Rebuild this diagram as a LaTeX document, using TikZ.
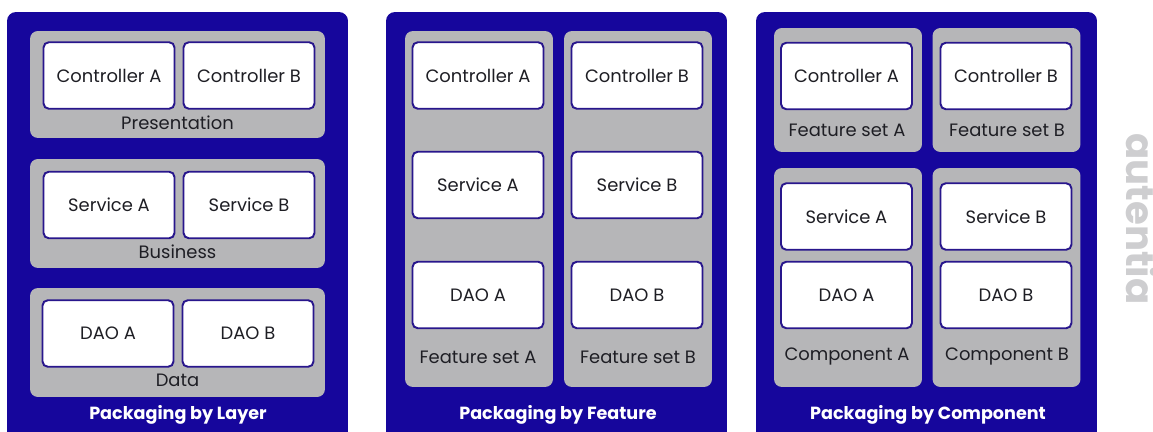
\documentclass[tikz,border=0pt]{standalone}
\usepackage{fontspec}
\setmainfont{Poppins}
\usepackage{xcolor}
\usetikzlibrary{positioning}

\definecolor{pkgblue}{RGB}{22,6,156}
\definecolor{grpgray}{RGB}{182,182,184}
\definecolor{clsline}{RGB}{40,22,140}
\definecolor{txtdark}{RGB}{30,30,36}
\definecolor{logogray}{RGB}{206,206,208}

\begin{document}
\begin{tikzpicture}[
          x=0.02cm, y=-0.02cm,
          every node/.style={font=\fontsize{10.2}{12}\selectfont, text=txtdark, inner sep=0pt},
          pkg/.style={fill=pkgblue, rounded corners=5pt, minimum width=6.82cm, minimum height=8.64cm},
          grp/.style={fill=grpgray, rounded corners=4.5pt, minimum width=#1},
          cls/.style={draw=clsline, line width=1.1pt, fill=white, rounded corners=3pt,
                      minimum width=2.62cm, minimum height=1.33cm},
          lab/.style={},
          ttl/.style={font=\fontsize{10}{12}\selectfont\bfseries, text=white},
        ]
          \useasboundingbox (0,0) rectangle (1153,432);
          \clip (0,0) rectangle (1153,432);

          %% outer blue panels (bottom runs off the page)
          \node[pkg] (layer)     at (177.5,228) {};
          \node[pkg] (feature)   at (556.5,228) {};
          \node[pkg] (component) at (926.5,228) {};

          %% --- packaging by layer
          \node[grp=5.9cm, minimum height=2.14cm] (pres) at (177.5,84.5)  {};
          \node[grp=5.9cm, minimum height=2.18cm] (bus)  at (177.5,213.5) {};
          \node[grp=5.9cm, minimum height=2.18cm] (data) at (177.5,342.5) {};
          \node[cls] (lctrla) at (109,75.5) {Controller A};
          \node[cls] (lctrlb) at (249,75.5) {Controller B};
          \node[cls] (lsvca)  at (109,205)  {Service A};
          \node[cls] (lsvcb)  at (249,205)  {Service B};
          \node[cls] (ldaoa)  at (108,333.5) {DAO A};
          \node[cls] (ldaob)  at (248,333.5) {DAO B};
          \node[lab] (presl) at (177.5,123) {Presentation};
          \node[lab] (busl)  at (177.5,252) {Business};
          \node[lab] (datal) at (177.5,380) {Data};
          \node[ttl] (layert) at (178,415) {Packaging by Layer};

          %% --- packaging by feature
          \node[grp=2.96cm, minimum height=7.12cm] (fseta) at (479,209) {};
          \node[grp=2.96cm, minimum height=7.12cm] (fsetb) at (638,209) {};
          \node[cls] (fctrla) at (478,75.5) {Controller A};
          \node[cls] (fctrlb) at (637,75.5) {Controller B};
          \node[cls] (fsvca)  at (478,185)  {Service A};
          \node[cls] (fsvcb)  at (637,185)  {Service B};
          \node[cls] (fdaoa)  at (478,295)  {DAO A};
          \node[cls] (fdaob)  at (637,295)  {DAO B};
          \node[lab] (fsetal) at (478,357) {Feature set A};
          \node[lab] (fsetbl) at (638,357) {Feature set B};
          \node[ttl] (featuret) at (558,415) {Packaging by Feature};

          %% --- packaging by component
          \node[grp=2.96cm, minimum height=2.48cm] (cseta) at (848,90)     {};
          \node[grp=2.96cm, minimum height=2.48cm] (csetb) at (1006.5,90)  {};
          \node[grp=2.96cm, minimum height=4.38cm] (cmpa)  at (848,277.5)  {};
          \node[grp=2.96cm, minimum height=4.38cm] (cmpb)  at (1006.5,277.5) {};
          \node[cls] (cctrla) at (846.5,76)  {Controller A};
          \node[cls] (cctrlb) at (1006,76)   {Controller B};
          \node[cls] (csvca)  at (846.5,216.5) {Service A};
          \node[cls] (csvcb)  at (1006,216.5)  {Service B};
          \node[cls] (cdaoa)  at (846.5,295) {DAO A};
          \node[cls] (cdaob)  at (1006,295)  {DAO B};
          \node[lab] (csetal) at (847,130)  {Feature set A};
          \node[lab] (csetbl) at (1007,130) {Feature set B};
          \node[lab] (cmpal)  at (847,357)  {Component A};
          \node[lab] (cmpbl)  at (1007,357) {Component B};
          \node[ttl] (componentt) at (928,415) {Packaging by Component};

          %% watermark
          \node[font=\fontsize{22}{22}\selectfont\bfseries, text=logogray, rotate=-90] (logo) at (1142,219) {autentia};
        \end{tikzpicture}
\end{document}
